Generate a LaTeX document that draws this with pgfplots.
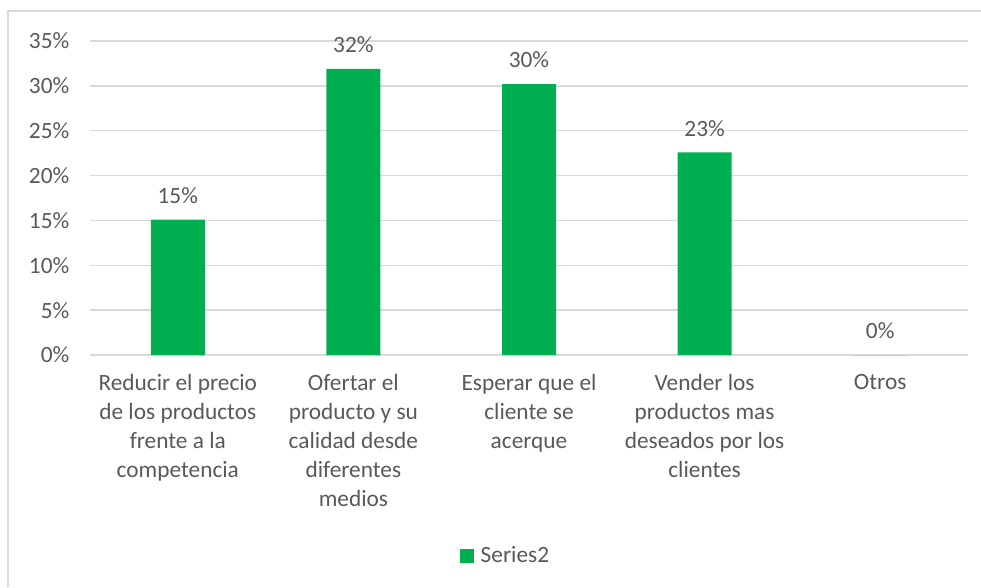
\documentclass[border=0pt]{standalone}
\usepackage{pgfplots}
\pgfplotsset{compat=1.18}
\usepackage{fontspec}
\setmainfont{Carlito}
\definecolor{bargreen}{HTML}{00B050}
\definecolor{txtgray}{HTML}{595959}
\definecolor{gridgray}{HTML}{D9D9D9}
\begin{document}
\begin{tikzpicture}
\path[use as bounding box] (0pt,0pt) rectangle (735.75pt,440.25pt);
\draw[gridgray,line width=1pt] (6pt,0pt) -- (6pt,432pt) -- (735.75pt,432pt);
\begin{axis}[
  at={(67.5pt,174pt)}, anchor=south west,
  scale only axis, width=658.5pt, height=235.5pt,
  ymin=0, ymax=35, ytick={0,5,...,35},
  xmin=-0.5, xmax=4.5, xtick=data,
  xticklabels={{Reducir el precio\\de los productos\\frente a la\\competencia},
    {Ofertar el\\producto y su\\calidad desde\\diferentes\\medios},
    {Esperar que el\\cliente se\\acerque},
    {Vender los\\productos mas\\deseados por los\\clientes},
    {Otros}},
  yticklabel={\pgfmathprintnumber[fixed,precision=0]{\tick}\%},
  /pgf/number format/assume math mode=true,
  font=\fontsize{17.5}{21.75}\selectfont,
  ticklabel style={text=txtgray},
  xticklabel style={align=center, yshift=-11pt},
  yticklabel style={xshift=-12pt},
  major tick length=0pt,
  axis line style={draw=none},
  ymajorgrids, grid style={gridgray,line width=1.1pt},
  ybar, bar width=40.5pt,
  nodes near coords={\pgfmathprintnumber[fixed,precision=0]{\pgfplotspointmeta}\%},
  nodes near coords style={text=txtgray, font=\fontsize{17.5}{21}\selectfont, yshift=8.5pt},
  legend style={at={(0.476,-0.64)}, anchor=center, draw=none, font=\fontsize{17.5}{21}\selectfont, text=txtgray, nodes={inner xsep=5pt}},
  legend image code/.code={\fill[bargreen] (0pt,-5.25pt) rectangle (10.5pt,5.25pt);},
  clip=false,
]
\addplot[fill=bargreen, draw=none] coordinates {(0,15.1) (1,31.9) (2,30.2) (3,22.6) (4,0)};
\addlegendentry{Series2}
\end{axis}
\end{tikzpicture}
\end{document}
